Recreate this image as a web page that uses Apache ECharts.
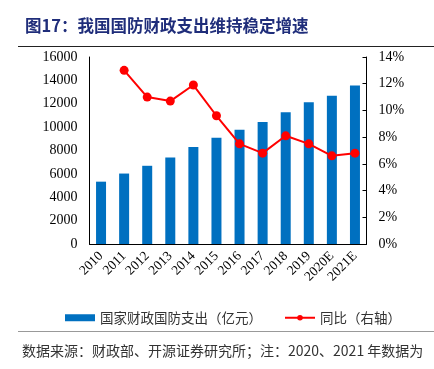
<!DOCTYPE html>
<html><head><meta charset="utf-8">
<script src="https://cdn.jsdelivr.net/npm/echarts@6/dist/echarts.min.js"></script>
<style>html,body{margin:0;padding:0;background:#fff}#c{width:434px;height:369px}</style>
</head><body><div id="c"></div>
<script>
const categories = ['2010','2011','2012','2013','2014','2015','2016','2017','2018','2019','2020E','2021E'];
const spending = [5333, 6028, 6692, 7411, 8289, 9088, 9766, 10432, 11280, 12122, 12680, 13553];
const growth = [null, 13.0, 11.0, 10.7, 11.9, 9.6, 7.5, 6.8, 8.1, 7.5, 6.6, 6.8];
const leftTicks = [0, 16000, 2000];
const rightTicks = [0, 14, 2];

const chart = echarts.init(document.getElementById('c'));
const serif = '"Liberation Serif","Times New Roman",serif';
const cjk = '"Noto Sans CJK SC",sans-serif';
chart.setOption({
  animation: false,
  title: {
    text: '图17：我国国防财政支出维持稳定增速',
    left: 20, top: 12,
    textStyle: { fontFamily: cjk, fontSize: 16.5, fontWeight: 'bold', color: '#1f2d7a' }
  },
  graphic: [
    { type: 'line', shape: { x1: 18, y1: 46.5, x2: 434, y2: 46.5 }, style: { stroke: '#222', lineWidth: 1 } },
    { type: 'line', shape: { x1: 18, y1: 331.5, x2: 434, y2: 331.5 }, style: { stroke: '#999', lineWidth: 1 } },
    { type: 'text', left: 22, top: 344, style: { text: '数据来源：财政部、开源证券研究所；注：2020、2021 年数据为', font: '14px ' + cjk, fill: '#333' } }
  ],
  legend: {
    top: 306, left: 60,
    itemGap: 22,
    textStyle: { fontFamily: cjk, fontSize: 13.5, color: '#333' },
    data: [
      { name: '国家财政国防支出（亿元）', icon: 'rect', itemStyle: { color: '#0070c0' } },
      { name: '同比（右轴）' }
    ],
    itemWidth: 30, itemHeight: 7
  },
  grid: { left: 89.5, right: 67.5, top: 57, bottom: 125 },
  xAxis: {
    type: 'category', data: categories,
    axisLine: { lineStyle: { color: '#000' } },
    axisTick: { inside: true, length: 4, lineStyle: { color: '#000' } },
    axisLabel: { rotate: 45, fontFamily: serif, fontSize: 13.5, color: '#000', margin: 10, interval: 0 }
  },
  yAxis: [
    { type: 'value', min: leftTicks[0], max: leftTicks[1], interval: leftTicks[2],
      splitLine: { show: false },
      axisLine: { show: true, lineStyle: { color: '#000' } },
      axisTick: { show: false },
      axisLabel: { fontFamily: serif, fontSize: 14, color: '#000', margin: 12, formatter: v => String(v) } },
    { type: 'value', min: rightTicks[0], max: rightTicks[1], interval: rightTicks[2],
      position: 'right',
      splitLine: { show: false },
      axisLine: { show: true, lineStyle: { color: '#000' } },
      axisTick: { show: true, inside: true, length: 4, lineStyle: { color: '#000' } },
      axisLabel: { fontFamily: serif, fontSize: 14, color: '#000', margin: 12, formatter: v => v + '%' } }
  ],
  series: [
    { name: '国家财政国防支出（亿元）', type: 'bar', data: spending, barWidth: 10,
      itemStyle: { color: '#0070c0' } },
    { name: '同比（右轴）', type: 'line', yAxisIndex: 1, data: growth,
      symbol: 'circle', symbolSize: 9,
      lineStyle: { color: '#ff0000', width: 2 }, itemStyle: { color: '#ff0000' } }
  ]
});
</script></body></html>
